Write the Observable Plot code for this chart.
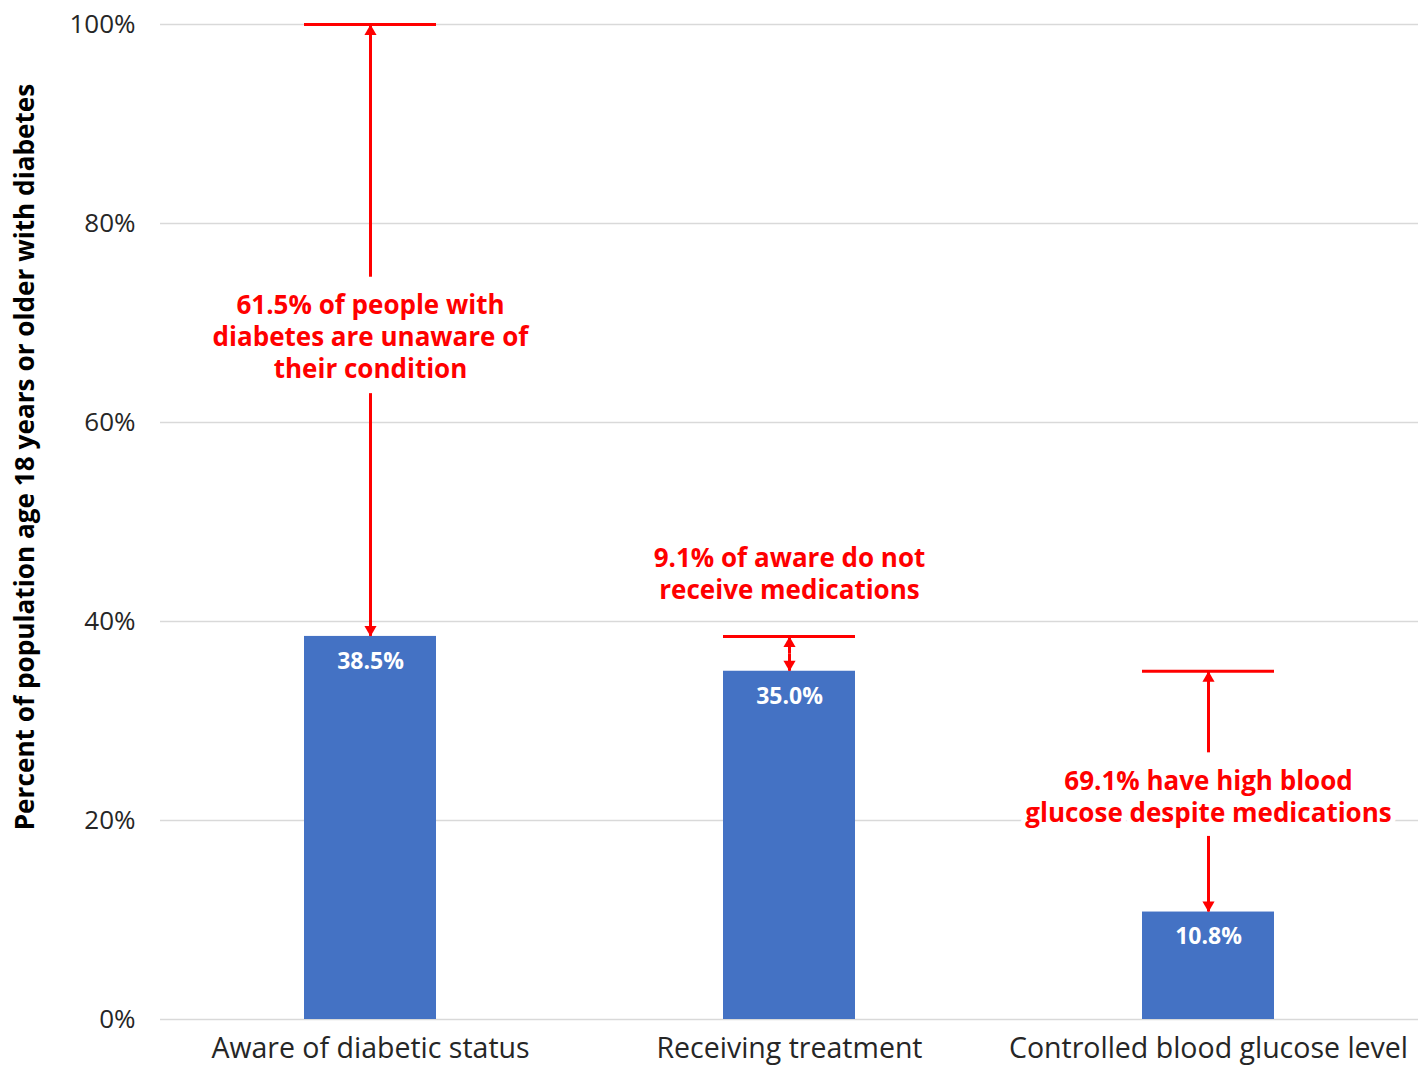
<!DOCTYPE html>
<html>
<head>
<meta charset="utf-8">
<script src="https://cdn.jsdelivr.net/npm/d3@7"></script>
<script src="https://cdn.jsdelivr.net/npm/@observablehq/plot@0.6"></script>
<style>
  html, body { margin: 0; padding: 0; background: #fff; }
  #chart svg { display: block; }
</style>
</head>
<body>
<div id="chart"></div>
<script>
const categories = ["Aware of diabetic status", "Receiving treatment", "Controlled blood glucose level"];
const values = [38.5, 35.0, 10.8];
const valueLabels = ["38.5%", "35.0%", "10.8%"];
const yTicks = [0, 20, 40, 60, 80, 100];
const yAxisTitle = "Percent of population age 18 years or older with diabetes";

// annotations
const annotTexts = [
  "61.5% of people with\ndiabetes are unaware of\ntheir condition",
  "9.1% of aware do not\nreceive medications",
  "69.1% have high blood\nglucose despite medications"
];
const annotY = [68.7, 44.9, 22.5];
const refLevels = [100, 38.5, 35.0];
// arrow segments: category index, start, end (head at end)
const arrowCat = [0, 0, 1, 1, 2, 2];
const arrowFrom = [74.6, 62.9, 36.75, 36.75, 26.8, 18.4];
const arrowTo = [100, 38.5, 38.5, 35.0, 35.0, 10.8];

const FONT = "'Open Sans', sans-serif";
const RED = "#ff0000";

const bars = categories.map((c, i) => ({cat: c, value: values[i], label: valueLabels[i]}));
const refs = categories.map((c, i) => ({cat: c, y: refLevels[i]}));
const notes = categories.map((c, i) => ({cat: c, y: annotY[i], text: annotTexts[i]}));
const arrows = arrowCat.map((k, i) => ({cat: categories[k], y1: arrowFrom[i], y2: arrowTo[i], up: arrowTo[i] > arrowFrom[i]}));

const plot = Plot.plot({
  width: 1425,
  height: 1068,
  marginTop: 24,
  marginBottom: 49,
  marginLeft: 160,
  marginRight: 7,
  style: {fontFamily: FONT, background: "#fff"},
  x: {domain: categories, paddingInner: 0.685, paddingOuter: 0.3425, label: null},
  y: {domain: [0, 100], label: null},
  marks: [
    Plot.gridY(yTicks, {stroke: "#d9d9d9", strokeOpacity: 1, strokeWidth: 1.5}),
    Plot.axisY(yTicks, {tickSize: 0, tickPadding: 25, fontSize: 26, fill: "#262626", tickFormat: d => d + "%", label: null}),
    Plot.axisX({tickSize: 0, tickPadding: 18, fontSize: 28.5, fill: "#262626", label: null}),
    Plot.barY(bars, {x: "cat", y: "value", fill: "#4472c4"}),
    Plot.text(bars, {x: "cat", y: "value", text: "label", fill: "#fff", fontSize: 23, fontWeight: "bold", dy: 25}),
    Plot.tickY(refs, {x: "cat", y: "y", stroke: RED, strokeWidth: 3}),
    Plot.ruleX(arrows, {x: "cat", y1: "y1", y2: "y2", stroke: RED, strokeWidth: 3}),
    Plot.dot(arrows.filter(d => d.up), {x: "cat", y: "y2", symbol: "triangle", r: 4.5, fill: RED, stroke: null, dy: 7}),
    Plot.dot(arrows.filter(d => !d.up), {x: "cat", y: "y2", symbol: "triangle", r: 4.5, fill: RED, stroke: null, rotate: 180, dy: -7}),
    Plot.text(notes, {x: "cat", y: "y", text: "text", fill: RED, stroke: "#fff", strokeWidth: 10, fontSize: 26, fontWeight: "bold", lineHeight: 1.23, lineAnchor: "middle"}),
    Plot.text([yAxisTitle], {frameAnchor: "left", text: d => d, rotate: -90, textAnchor: "middle", dx: -135, dy: -65, fontSize: 26.2, fontWeight: "bold", fill: "#000"})
  ]
});
document.getElementById("chart").appendChild(plot);
</script>
</body>
</html>
